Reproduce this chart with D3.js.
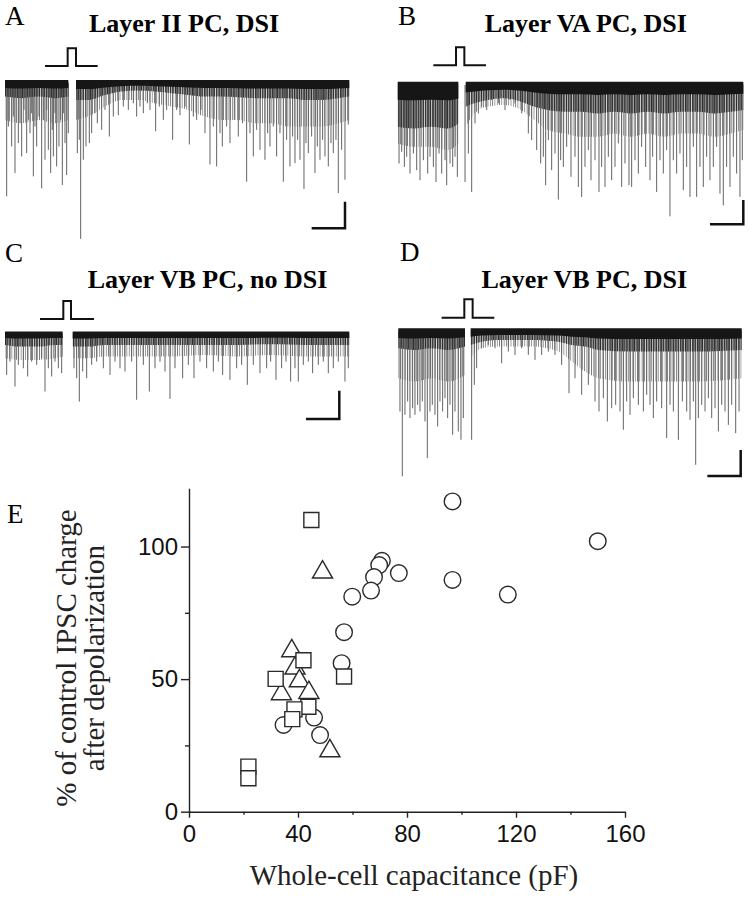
<!DOCTYPE html>
<html><head><meta charset="utf-8">
<script src="https://cdn.jsdelivr.net/npm/d3@7"></script>
<style>body{margin:0;background:#fff}svg{display:block}</style>
</head><body><svg id="c" width="749" height="899"></svg>
<script>
// ---------------- DATA ----------------
const panelLetters = ["A", "B", "C", "D", "E"];
const panelTitles = ["Layer II PC, DSI", "Layer VA PC, DSI", "Layer VB PC, no DSI", "Layer VB PC, DSI"];
// trace durations (s) and recording gaps during depolarization (s)
const durations = [103.3, 103.7, 103.3, 103.0];
const gaps = [[19.0, 21.3], [18.2, 20.4], [17.3, 20.3], [20.0, 21.7]];
// depolarizing step: start, step on, step off, end (s)
const stimTimes = [[12, 18.8, 21.3, 27.8], [10.7, 17.5, 20.0, 26.5], [10.5, 17.5, 19.8, 26.7], [13, 19.8, 22.3, 28.8]];
const scaleBar = [10, 200]; // s, pA
const bandTop = [-25, -27, -19, -31]; // upward noise (pA)

// noise band envelope: [t (s), dense depth (pA), medium-event depth (pA)]
const bandA = [[0,100,275],[5,112,300],[10,100,275],[15,112,300],[19,100,275],
  [21.3,125,275],[25,125,250],[30,88,175],[35,62,125],[40,55,125],[45,62,150],[50,75,175],[55,88,200],
  [60,100,250],[65,100,275],[70,105,275],[75,112,300],[80,112,300],[85,112,325],[90,125,325],[95,125,325],[100,112,300],[103.3,100,275]];
const bandB = [[0,344,481],[5,358,509],[10,344,509],[15,358,536],[18.2,316,481],
  [20.4,179,344],[23,151,234],[27,124,179],[32,110,165],[37,138,206],[41,179,289],[45,206,371],[50,220,399],
  [55,220,426],[60,234,426],[65,220,399],[70,234,426],[75,220,399],[80,234,426],[85,220,399],[90,220,399],[95,234,426],[100,220,399],[103.7,206,371]];
const bandC = [[0,75,169],[5,87,181],[10,87,181],[15,75,169],[17.3,75,157],
  [20.3,87,169],[25,87,169],[30,75,157],[40,75,157],[50,75,157],[60,75,146],[70,75,157],[80,70,146],[90,75,157],[103.3,75,157]];
const bandD = [[0,123,353],[5,136,379],[10,123,353],[15,136,379],[20,110,328],
  [21.7,97,200],[25,72,123],[30,59,110],[40,59,110],[48,72,148],[52,97,225],[56,110,302],[60,136,353],
  [70,148,379],[80,148,379],[90,148,379],[103,136,353]];

// individual IPSC events: [t (s), amplitude (pA)]
const eventsA = [[0.5,850],[1.0,325],[2.0,475],[2.5,250],[3.0,675],[4.0,450],[4.5,300],[5.0,550],[5.7,200],[6.5,525],[7.0,275],
  [7.5,375],[8.0,225],[8.5,700],[9.0,325],[9.5,475],[10.2,250],[11.0,790],[11.5,275],[12.0,575],[12.5,200],[13.0,500],
  [13.7,675],[14.2,350],[14.5,550],[15.0,225],[15.5,625],[16.2,475],[16.7,275],[17.2,765],[17.5,225],[18.0,450],[18.5,690],[19.0,375],
  [21.7,525],[22.3,425],[22.7,1170],[23.5,575],[24.3,475],[25.3,450],[26.0,375],[27.0,225],[27.7,300],[29.0,350],[30.0,200],
  [31.3,400],[32.5,250],[34.0,240],[35.5,175],[37.0,200],[38.5,150],[39.5,250],[40.5,175],[41.5,225],[42.7,150],[43.5,200],
  [45.2,360],[46.3,175],[47.5,275],[48.5,200],[50.3,425],[51.5,200],[52.5,240],[54.0,175],[55.3,460],[56.5,250],[57.5,275],
  [58.8,200],[60.0,375],[61.5,610],[62.5,325],[63.5,625],[64.5,375],[65.2,475],[66.5,325],[67.5,450],[68.8,275],[70.0,400],
  [71.3,300],[72.5,740],[73.5,375],[74.5,550],[75.5,350],[76.5,500],[78.0,575],[78.8,375],[79.5,475],[80.5,325],[81.5,550],
  [82.5,375],[83.5,740],[84.5,425],[85.5,625],[86.3,400],[87.0,600],[87.8,425],[88.5,575],[89.7,795],[90.3,450],[91.0,525],
  [92.0,400],[93.0,675],[93.7,475],[94.5,575],[95.3,425],[96.0,550],[97.0,625],[97.8,450],[98.5,525],[99.3,425],[100.0,825],
  [101.0,500],[102.0,725],[103.0,310]];
const eventsB = [[0.4,646],[1.2,550],[2.0,674],[2.7,591],[3.7,729],[4.7,564],[5.7,701],[6.7,784],[7.7,619],[9.0,729],[9.7,591],
  [10.7,674],[11.5,798],[12.4,564],[13.2,729],[14.2,619],[14.7,825],[15.7,646],[16.5,674],[17.2,591],[17.9,756],
  [20.2,798],[21.2,564],[22.2,880],[23.2,316],[24.2,234],[25.2,179],[26.7,206],[28.2,124],[30.2,151],[32.2,206],[33.7,124],
  [35.2,151],[37.2,234],[39.2,399],[40.2,454],[41.7,536],[42.9,646],[43.7,591],[44.4,825],[45.2,454],[46.2,701],[47.2,564],
  [48.2,943],[48.9,619],[49.7,674],[50.7,509],[52.0,756],[53.2,591],[54.2,839],[55.2,921],[56.2,674],[57.2,536],[58.0,784],
  [59.2,619],[60.4,880],[61.2,674],[62.2,839],[63.2,591],[64.2,784],[65.2,674],[66.2,481],[67.2,839],[68.2,646],[69.4,825],
  [70.2,839],[71.2,619],[72.2,729],[73.2,509],[74.4,674],[75.7,784],[76.5,591],[77.7,880],[78.7,619],[79.7,729],[80.7,536],
  [81.7,1081],[82.7,619],[83.7,729],[84.7,564],[85.7,866],[86.7,674],[87.7,921],[88.7,509],[89.7,921],[90.7,674],[91.7,839],
  [92.7,591],[93.7,784],[94.7,674],[95.7,509],[96.7,894],[97.7,990],[98.7,674],[99.7,839],[100.7,591],[101.7,729],[102.7,921],[103.4,619]];
const eventsC = [[0.5,287],[1.5,193],[3.0,369],[4.0,216],[5.5,240],[6.8,298],[8.0,193],[9.5,216],[11.0,169],[12.0,404],[13.0,240],
  [14.0,298],[15.0,193],[16.0,240],[17.0,275],[20.7,240],[21.5,310],[22.3,475],[23.3,263],[24.5,310],[26.0,216],[27.5,193],
  [29.5,240],[31.5,287],[33.0,193],[34.5,240],[36.0,263],[38.0,193],[39.5,463],[41.5,216],[43.3,404],[45.0,240],[46.5,193],
  [48.0,263],[49.5,456],[51.0,240],[53.3,310],[55.0,216],[56.7,310],[58.5,193],[60.5,240],[62.5,263],[64.0,193],[65.3,287],
  [67.5,322],[69.5,240],[71.0,216],[72.7,357],[74.5,216],[76.5,275],[78.5,240],[79.7,193],[81.3,322],[83.0,240],[84.3,193],
  [85.7,334],[87.0,240],[88.0,334],[89.5,216],[91.0,193],[92.3,275],[94.0,216],[95.5,193],[97.0,275],[98.5,240],[100.0,193],
  [102.0,334],[103.0,240]];
const eventsD = [[0.5,609],[1.2,1108],[2.0,635],[2.8,532],[3.5,660],[4.3,584],[5.0,635],[5.8,558],[6.5,609],[7.2,532],[8.0,686],
  [8.7,968],[9.5,609],[10.2,558],[11.0,635],[11.8,724],[12.5,532],[13.3,609],[14.0,507],[14.8,660],[15.5,558],[16.3,788],
  [17.0,609],[18.0,763],[18.8,827],[19.5,660],[22.0,827],[22.8,404],[23.5,276],[25.0,123],[27.0,97],[29.0,123],[31.0,238],
  [33.0,148],[35.0,174],[37.0,123],[39.0,174],[41.0,212],[43.0,174],[45.0,148],[47.0,174],[49.0,251],[51.2,468],[53.0,353],
  [55.0,481],[57.0,404],[59.0,532],[60.2,609],[61.5,507],[62.7,686],[64.0,584],[65.2,558],[66.5,609],[67.5,750],[68.5,532],
  [69.5,635],[70.5,507],[72.0,558],[73.5,609],[74.5,481],[75.5,558],[76.5,660],[77.5,532],[79.0,584],[80.5,814],[81.5,558],
  [82.5,609],[84.0,827],[85.2,532],[86.5,609],[87.5,673],[88.5,532],[89.2,1019],[90.0,660],[91.0,558],[92.0,609],[93.0,507],
  [94.0,660],[95.0,584],[96.0,763],[97.0,558],[98.0,609],[99.0,712],[100.0,558],[101.2,776],[102.2,609]];

// Panel E: [capacitance (pF), % of control IPSC charge]
const circlePts = [[96.7,117.0],[70.8,94.6],[69.8,93.0],[67.9,88.5],[66.8,83.4],[77.0,90.0],[59.9,81.1],[96.7,87.4],
  [150,102],[117,81.9],[56.9,67.7],[56.0,56.0],[34.7,32.7],[45.9,35.5],[48.1,28.9]];
const trianglePts = [[49,90.3],[37.7,60.6],[38.9,54.1],[40.5,49.3],[33.9,44.4],[44,44.9],[51.7,22.9]];
const squarePts = [[44.9,110],[42,57.1],[56.9,51],[31.8,50.1],[43.8,39.6],[38.7,38.6],[37.9,34.9],[21.8,17],[21.8,12.6]];
const xTicks = [0, 40, 80, 120, 160];
const xMinor = [20, 60, 100, 140];
const yTicks = [0, 50, 100];
const yMinor = [25, 75];
const xTitle = "Whole-cell capacitance (pF)";
const yTitle = ["% of control IPSC charge", "after depolarization"];

// ---------------- LAYOUT ----------------
const bands = [bandA, bandB, bandC, bandD];
const events = [eventsA, eventsB, eventsC, eventsD];
const layouts = [
  {x0:5, x1:349.3, base:83.3, barH:26.6, sB:66, sT:48.3, bx:345, by:228.3, tx:184, ty:31.7, lx:5, ly:25},
  {x0:397.7, x1:743.3, base:85, barH:24.3, sB:65.3, sT:47.3, bx:743.3, by:224.3, tx:585.8, ty:31.7, lx:398, ly:25},
  {x0:5, x1:349.3, base:334.3, barH:28.3, sB:319, sT:301, bx:339.3, by:419, tx:207.5, ty:288.3, lx:5, ly:262},
  {x0:398.3, x1:741.7, base:332.3, barH:26, sB:317.7, sT:299.3, bx:740.7, by:476, tx:584.3, ty:288.3, lx:400, ly:261}
];
const serif = "'Liberation Serif','Times New Roman',Times,serif";
const sans = "'Liberation Sans',Arial,Helvetica,sans-serif";

const svg = d3.select("#c");
const defs = svg.append("defs");
function hatch(id, pitch, w, col) {
  const p = defs.append("pattern").attr("id", id).attr("patternUnits", "userSpaceOnUse")
    .attr("width", pitch).attr("height", 10);
  p.append("rect").attr("x", 0).attr("y", 0).attr("width", w).attr("height", 10).attr("fill", col);
}
hatch("hatchSparse", 2.3, 0.8, "#7a7a7a");
hatch("hatchDense", 1.7, 1.0, "#2a2a2a");

layouts.forEach((L, i) => {
  const x = d3.scaleLinear().domain([0, durations[i]]).range([L.x0, L.x1]);
  const y = d3.scaleLinear().domain([0, scaleBar[1]]).range([L.base, L.base + L.barH]);
  const g = svg.append("g");
  const gap = gaps[i];
  const segs = [bands[i].filter(d => d[0] <= gap[0]), bands[i].filter(d => d[0] >= gap[1])];
  const evs = events[i];
  const area = (f, top) => d3.area().x(d => x(d[0])).y0(y(top)).y1(d => y(f(d))).curve(d3.curveMonotoneX);
  segs.forEach(seg => {
    g.append("path").datum(seg).attr("d", area(d => d[2], 0)).attr("fill", "url(#hatchSparse)");
  });
  g.selectAll("line.ev").data(evs).join("line").attr("class", "ev")
    .attr("x1", d => x(d[0])).attr("x2", d => x(d[0]))
    .attr("y1", y(0)).attr("y2", d => y(d[1]))
    .attr("stroke", "#636363").attr("stroke-width", 1);
  segs.forEach(seg => {
    g.append("path").datum(seg).attr("d", area(d => d[1], bandTop[i] * 0.5)).attr("fill", "url(#hatchDense)");
    g.append("path").datum(seg).attr("d", area(d => d[1] * 0.35, bandTop[i])).attr("fill", "#161616");
  });
  // stimulus step
  const st = stimTimes[i];
  const ys = d3.scaleLinear().domain([0, 1]).range([L.sB, L.sT]);
  const stim = [[st[0],0],[st[1],0],[st[1],1],[st[2],1],[st[2],0],[st[3],0]];
  g.append("path").datum(stim)
    .attr("d", d3.line().x(d => x(d[0])).y(d => ys(d[1])))
    .attr("fill", "none").attr("stroke", "#111").attr("stroke-width", 2);
  // scale bar
  const bw = x(scaleBar[0]) - x(0), bh = y(scaleBar[1]) - y(0);
  g.append("path").attr("d", `M${L.bx - bw},${L.by}H${L.bx}V${L.by - bh}`)
    .attr("fill", "none").attr("stroke", "#111").attr("stroke-width", 2.5);
  // texts
  g.append("text").attr("x", L.tx).attr("y", L.ty).attr("text-anchor", "middle")
    .attr("font-family", serif).attr("font-weight", "bold").attr("font-size", 26).text(panelTitles[i]);
  g.append("text").attr("x", L.lx).attr("y", L.ly)
    .attr("font-family", serif).attr("font-size", 27).text(panelLetters[i]);
});

// ---------------- PANEL E ----------------
const xs = d3.scaleLinear().domain([0, 160]).range([189, 625]);
const yS = d3.scaleLinear().domain([0, 122]).range([811.7, 488.2]);
const gE = svg.append("g");
gE.append("text").attr("x", 7).attr("y", 522.7).attr("font-family", serif).attr("font-size", 27).text(panelLetters[4]);

const xAxis = gE.append("g").attr("transform", `translate(0,${yS(0)})`)
  .call(d3.axisBottom(xs).tickValues(xTicks).tickSize(6).tickSizeOuter(0).tickPadding(6).tickFormat(d3.format("d")));
gE.append("g").attr("transform", `translate(0,${yS(0)})`)
  .call(d3.axisBottom(xs).tickValues(xMinor).tickSize(3).tickSizeOuter(0).tickFormat(""))
  .select(".domain").remove();
const yAxis = gE.append("g").attr("transform", `translate(${xs(0)},0)`)
  .call(d3.axisLeft(yS).tickValues(yTicks).tickSize(8).tickSizeOuter(0).tickPadding(3).tickFormat(d3.format("d")));
gE.append("g").attr("transform", `translate(${xs(0)},0)`)
  .call(d3.axisLeft(yS).tickValues(yMinor).tickSize(4).tickSizeOuter(0).tickFormat(""))
  .select(".domain").remove();
gE.selectAll(".domain,.tick line").attr("stroke", "#222").attr("stroke-width", 1.4);
gE.selectAll(".tick text").attr("font-family", sans).attr("font-size", 24).attr("fill", "#111");
xAxis.selectAll(".tick text").attr("dy", "0.75em");

gE.append("text").attr("x", 414).attr("y", 885).attr("text-anchor", "middle")
  .attr("font-family", serif).attr("font-size", 29).attr("fill", "#222").text(xTitle);
yTitle.forEach((t, k) => {
  gE.append("text").attr("transform", `translate(${[76, 104][k]},658) rotate(-90)`).attr("text-anchor", "middle")
    .attr("font-family", serif).attr("font-size", 29).attr("fill", "#222").text(t);
});

const mk = {fill: "#fff", stroke: "#2a2a2a", sw: 1.4};
gE.selectAll("circle.c").data(circlePts).join("circle").attr("class", "c")
  .attr("cx", d => xs(d[0])).attr("cy", d => yS(d[1])).attr("r", 8.3)
  .attr("fill", mk.fill).attr("stroke", mk.stroke).attr("stroke-width", mk.sw);
gE.selectAll("path.t").data(trianglePts).join("path").attr("class", "t")
  .attr("transform", d => `translate(${xs(d[0])},${yS(d[1])})`)
  .attr("d", d3.symbol(d3.symbolTriangle, 175))
  .attr("fill", mk.fill).attr("stroke", mk.stroke).attr("stroke-width", mk.sw);
gE.selectAll("path.s").data(squarePts).join("path").attr("class", "s")
  .attr("transform", d => `translate(${xs(d[0])},${yS(d[1])})`)
  .attr("d", d3.symbol(d3.symbolSquare, 225))
  .attr("fill", mk.fill).attr("stroke", mk.stroke).attr("stroke-width", mk.sw);
</script></body></html>
